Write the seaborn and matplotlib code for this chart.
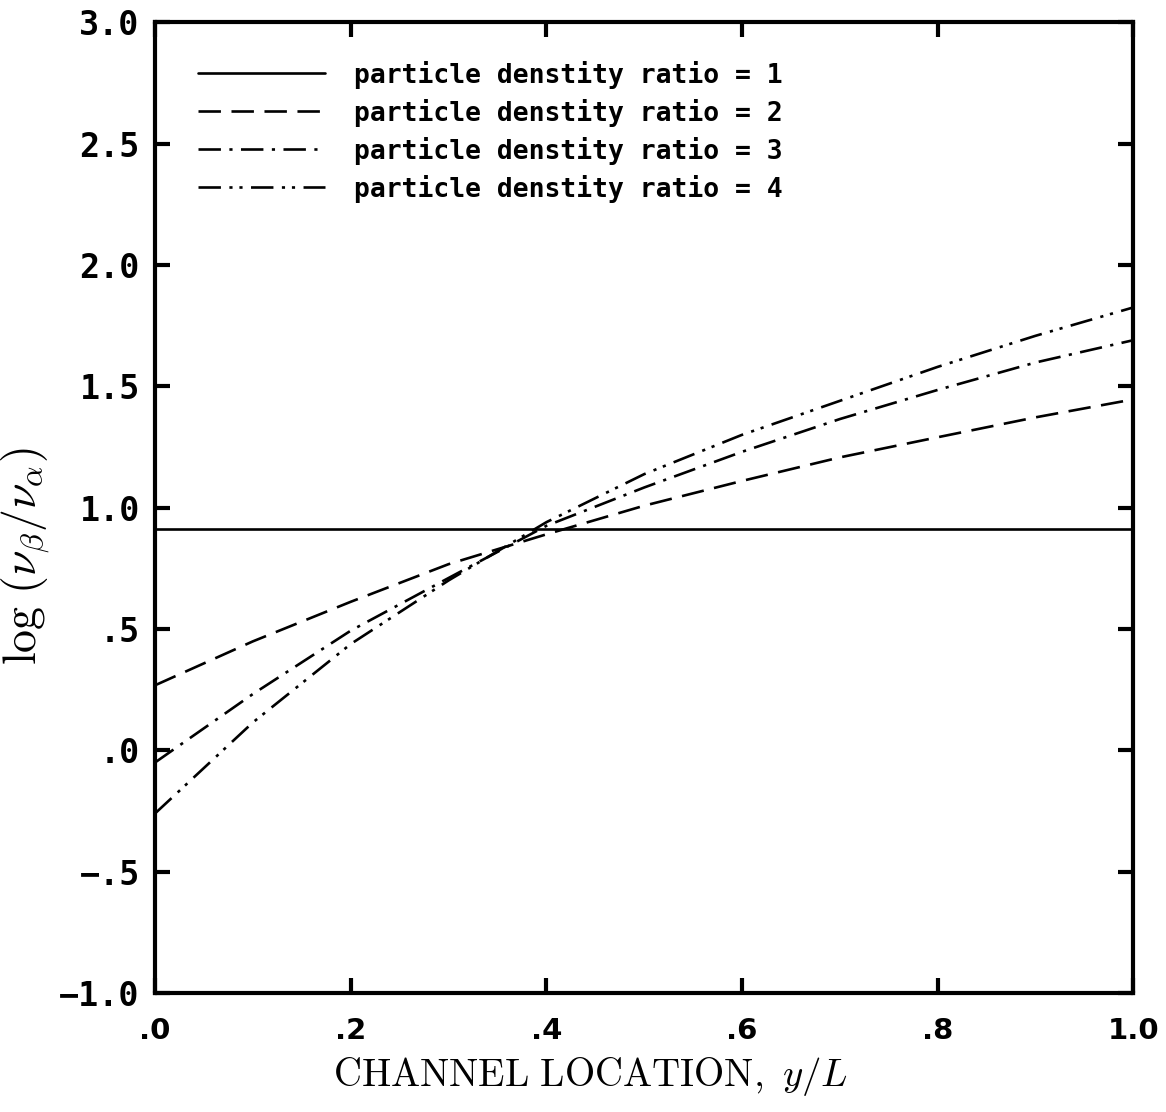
import matplotlib
matplotlib.use("Agg")
import matplotlib.pyplot as plt
import numpy as np
import pandas as pd
import seaborn as sns

# Channel location (y/L) where the profiles are sampled
location = [0.0, 0.1, 0.2, 0.3, 0.4, 0.5, 0.6, 0.7, 0.8, 0.9, 1.0]

# log(nu_beta / nu_alpha) for each particle density ratio
ratio_1 = [0.91, 0.91, 0.91, 0.91, 0.91, 0.91, 0.91, 0.91, 0.91, 0.91, 0.91]
ratio_2 = [0.268, 0.449, 0.612, 0.767, 0.890, 1.008, 1.110, 1.207, 1.290, 1.372, 1.446]
ratio_3 = [-0.05, 0.232, 0.493, 0.710, 0.925, 1.083, 1.230, 1.365, 1.485, 1.598, 1.690]
ratio_4 = [-0.26, 0.115, 0.438, 0.700, 0.940, 1.138, 1.300, 1.440, 1.580, 1.708, 1.825]

series_labels = [
    "particle denstity ratio = 1",
    "particle denstity ratio = 2",
    "particle denstity ratio = 3",
    "particle denstity ratio = 4",
]

x_ticks = [0.0, 0.2, 0.4, 0.6, 0.8, 1.0]
x_tick_labels = [".0", ".2", ".4", ".6", ".8", "1.0"]
y_ticks = [-1.0, -0.5, 0.0, 0.5, 1.0, 1.5, 2.0, 2.5, 3.0]
y_tick_labels = ["\u22121.0", "\u2212.5", ".0", ".5", "1.0", "1.5", "2.0", "2.5", "3.0"]

sns.set_theme(style="white")
plt.rcParams["mathtext.fontset"] = "cm"
plt.rcParams["text.color"] = "black"

rows = []
for label, values in zip(series_labels, [ratio_1, ratio_2, ratio_3, ratio_4]):
    for xv, yv in zip(location, values):
        rows.append({"location": xv, "value": yv, "series": label})
df = pd.DataFrame(rows)

line_styles = {
    series_labels[0]: "-",
    series_labels[1]: (0, (8.5, 4.0)),
    series_labels[2]: (0, (8.5, 3.2, 1.2, 3.2)),
    series_labels[3]: (0, (8.5, 3.2, 1.2, 2.6, 1.2, 3.2)),
}

fig = plt.figure(figsize=(11.66, 11.12), dpi=100)
ax = fig.add_axes([0.133, 0.107, 0.839, 0.873])

for label in series_labels:
    sub = df[df["series"] == label]
    sns.lineplot(data=sub, x="location", y="value", ax=ax, color="black",
                 linewidth=1.9, linestyle=line_styles[label], label=label,
                 estimator=None, sort=True)

ax.set_xlim(0.0, 1.0)
ax.set_ylim(-1.0, 3.0)
ax.set_xticks(x_ticks)
ax.set_xticklabels(x_tick_labels)
ax.set_yticks(y_ticks)
ax.set_yticklabels(y_tick_labels)

for lab in ax.get_yticklabels():
    lab.set_family("DejaVu Sans Mono")
    lab.set_fontweight("bold")
    lab.set_fontsize(24)
for lab in ax.get_xticklabels():
    lab.set_family("DejaVu Sans")
    lab.set_fontweight("bold")
    lab.set_fontsize(21)

ax.tick_params(axis="both", which="major", direction="in", length=11, width=3,
               top=True, right=True, bottom=True, left=True, colors="black")
ax.tick_params(axis="x", pad=17)
ax.tick_params(axis="y", pad=11)

for spine in ax.spines.values():
    spine.set_visible(True)
    spine.set_color("black")
    spine.set_linewidth(3)

ax.set_xlabel(r"$\mathrm{CHANNEL\ LOCATION,}\ y/L$", fontsize=28, color="black")
ax.xaxis.set_label_coords(0.445, -0.064)
ax.set_ylabel(r"$\log\,(\nu_\beta/\nu_\alpha)$", fontsize=33, color="black")
ax.yaxis.set_label_coords(-0.104, 0.45)

leg = ax.legend(loc="upper left", frameon=False, handlelength=4.8,
                handletextpad=1.1, labelspacing=0.38,
                bbox_to_anchor=(0.02, 0.985), labelcolor="black",
                prop={"family": "DejaVu Sans Mono", "weight": "bold", "size": 19})
for line in leg.get_lines():
    line.set_linewidth(1.9)

fig.savefig("out.png", dpi=100, facecolor="white")
